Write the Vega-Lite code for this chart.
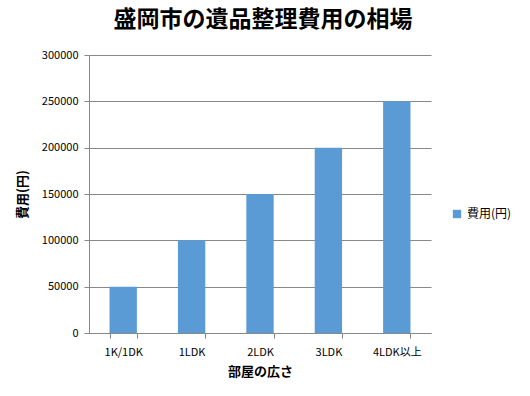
{
  "$schema": "https://vega.github.io/schema/vega-lite/v6.json",
  "width": 342,
  "height": 278,
  "autosize": "none",
  "padding": {"left": 89, "top": 55, "right": 99, "bottom": 63},
  "background": "white",
  "title": {
    "text": "盛岡市の遺品整理費用の相場",
    "font": "Noto Sans CJK JP",
    "fontSize": 23,
    "fontWeight": "bold",
    "color": "#000000",
    "anchor": "middle",
    "frame": "group",
    "dx": 3,
    "offset": 17
  },
  "data": {
    "values": [
      {"size": "1K/1DK", "cost": 50000, "series": "費用(円)"},
      {"size": "1LDK", "cost": 100000, "series": "費用(円)"},
      {"size": "2LDK", "cost": 150000, "series": "費用(円)"},
      {"size": "3LDK", "cost": 200000, "series": "費用(円)"},
      {"size": "4LDK以上", "cost": 250000, "series": "費用(円)"}
    ]
  },
  "mark": {"type": "bar"},
  "encoding": {
    "x": {
      "field": "size",
      "type": "nominal",
      "sort": null,
      "scale": {"paddingInner": 0.6, "paddingOuter": 0.3},
      "axis": {
        "title": "部屋の広さ",
        "titleFont": "Noto Sans CJK JP",
        "titleFontSize": 13,
        "titleFontWeight": "bold",
        "titleColor": "#000000",
        "titlePadding": 8,
        "labelFont": "Noto Sans CJK JP",
        "labelFontSize": 11,
        "labelColor": "#000000",
        "labelAngle": 0,
        "labelPadding": 8,
        "tickBand": "extent",
        "tickSize": 5,
        "tickColor": "#888888",
        "domainColor": "#888888",
        "grid": false
      }
    },
    "y": {
      "field": "cost",
      "type": "quantitative",
      "scale": {"domain": [0, 300000]},
      "axis": {
        "title": "費用(円)",
        "titleFont": "Noto Sans CJK JP",
        "titleFontSize": 13,
        "titleFontWeight": "bold",
        "titleColor": "#000000",
        "titlePadding": 12,
        "labelFont": "Noto Sans CJK JP",
        "labelFontSize": 11,
        "labelColor": "#000000",
        "labelPadding": 6,
        "values": [0, 50000, 100000, 150000, 200000, 250000, 300000],
        "format": "d",
        "tickSize": 5,
        "tickColor": "#888888",
        "domainColor": "#888888",
        "gridColor": "#888888",
        "grid": true
      }
    },
    "color": {
      "field": "series",
      "type": "nominal",
      "scale": {"range": ["#5B9BD5"]},
      "legend": {
        "title": null,
        "orient": "none",
        "legendX": 362,
        "legendY": 153,
        "symbolType": "square",
        "symbolSize": 70,
        "symbolOpacity": 1,
        "labelFont": "Noto Sans CJK JP",
        "labelFontSize": 12,
        "labelColor": "#000000"
      }
    }
  },
  "config": {
    "view": {"stroke": null}
  }
}
